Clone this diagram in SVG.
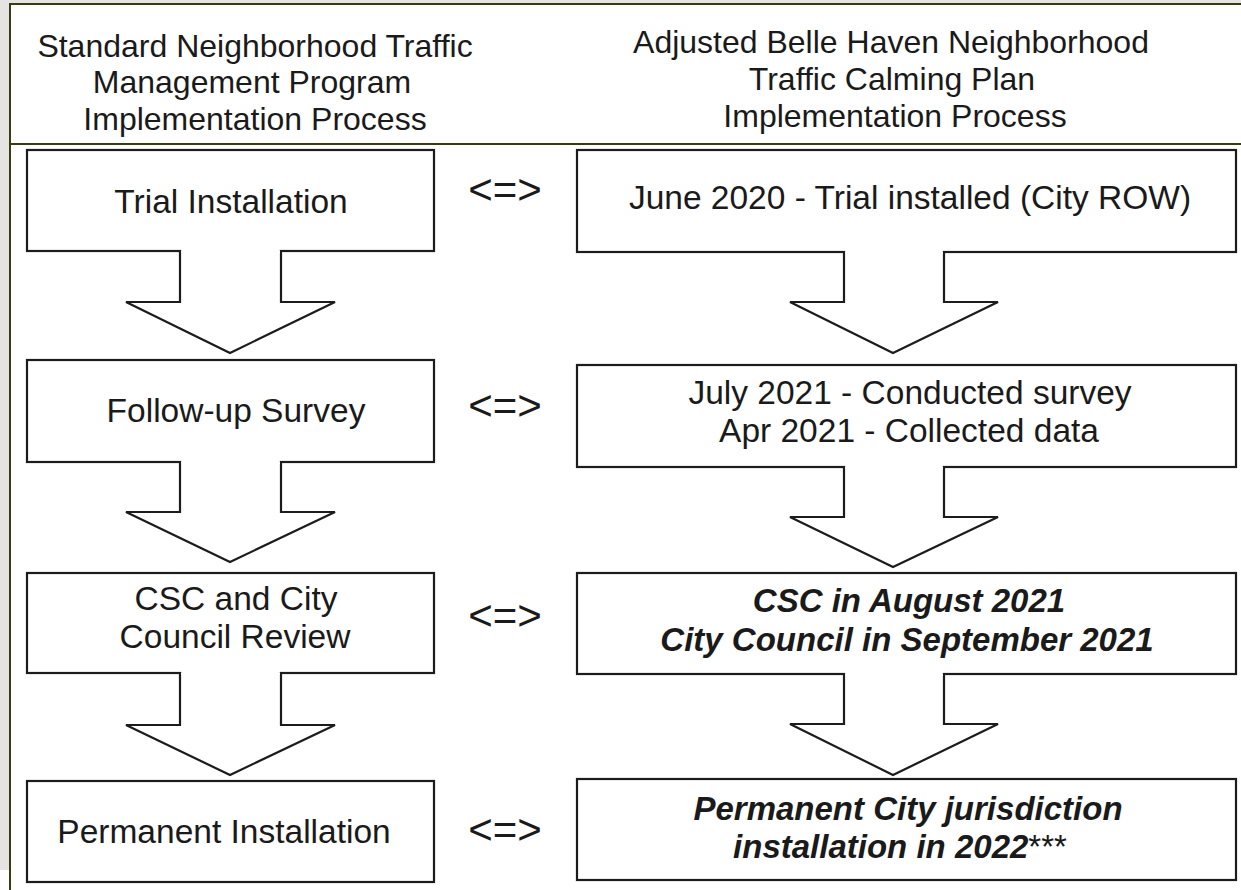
<svg xmlns="http://www.w3.org/2000/svg" width="1241" height="890" viewBox="0 0 1241 890">
<style>
.frame{stroke:#3b3b12;stroke-width:2;fill:none}
.box{fill:#ffffff;stroke:#1c1c1c;stroke-width:2.2;stroke-linejoin:miter}
.mask{fill:#ffffff;stroke:none}
text{font-family:"Liberation Sans",Arial,sans-serif;fill:#1a1a1a;text-anchor:middle}
.hd{font-size:32px}
.tx{font-size:33.5px}
.bi{font-size:33px;font-weight:bold;font-style:italic}
.eq{font-size:42px}
.ast{font-weight:normal;font-style:normal}
</style>
<rect x="0" y="0" width="1241" height="890" fill="#ffffff"/>
<rect x="0" y="0" width="1241" height="4" fill="#e4e4e2"/>
<rect x="0" y="0" width="9" height="870" fill="#e4e4e2"/>
<line class="frame" x1="9" y1="4" x2="1241" y2="4"/>
<line class="frame" x1="10" y1="4" x2="10" y2="890"/>
<line class="frame" x1="10" y1="144" x2="1241" y2="144"/>

<g id="header-left">
<text class="hd" x="255" y="57">Standard Neighborhood Traffic</text>
<text class="hd" x="252" y="93">Management Program</text>
<text class="hd" x="255" y="130">Implementation Process</text>
</g>
<g id="header-right">
<text class="hd" x="891" y="53">Adjusted Belle Haven Neighborhood</text>
<text class="hd" x="892" y="90">Traffic Calming Plan</text>
<text class="hd" x="895" y="127">Implementation Process</text>
</g>

<g id="left-1"><rect class="box" x="27" y="150" width="407" height="101"/><text class="tx" x="231" y="213">Trial Installation</text></g>
<g id="left-2"><rect class="box" x="27" y="360" width="407" height="102"/><text class="tx" x="236" y="422">Follow-up Survey</text></g>
<g id="left-3"><rect class="box" x="27" y="573" width="407" height="100"/><text class="tx" x="236" y="610">CSC and City</text><text class="tx" x="235" y="648">Council Review</text></g>
<g id="left-4"><rect class="box" x="27" y="781" width="407" height="101"/><text class="tx" x="224" y="843">Permanent Installation</text></g>

<g id="right-1"><rect class="box" x="577" y="150" width="659" height="102"/><text class="tx" x="910" y="209">June 2020 - Trial installed (City ROW)</text></g>
<g id="right-2"><rect class="box" x="577" y="365" width="659" height="102"/><text class="tx" x="910" y="404">July 2021 - Conducted survey</text><text class="tx" x="909" y="442">Apr 2021 - Collected data</text></g>
<g id="right-3"><rect class="box" x="577" y="573" width="659" height="101"/><text class="bi" x="909" y="612">CSC in August 2021</text><text class="bi" x="907" y="651">City Council in September 2021</text></g>
<g id="right-4"><rect class="box" x="577" y="779" width="659" height="101"/><text class="bi" x="908" y="820">Permanent City jurisdiction</text><text class="bi" x="900" y="858">installation in 2022<tspan class="ast">***</tspan></text></g>

<g id="equivalences">
<text class="eq" x="505" y="204">&lt;=&gt;</text>
<text class="eq" x="505" y="420">&lt;=&gt;</text>
<text class="eq" x="505" y="630">&lt;=&gt;</text>
<text class="eq" x="505" y="844">&lt;=&gt;</text>
</g>

<g id="connectors">
<path class="box" d="M180,251 V302 H126 L230,353 L335,302 H281 V251"/><rect class="mask" x="181.2" y="248" width="98.6" height="5"/>
<path class="box" d="M180,462 V512 H126 L230,562 L335,512 H281 V462"/><rect class="mask" x="181.2" y="459" width="98.6" height="5"/>
<path class="box" d="M180,673 V725 H126 L230,775 L335,725 H281 V673"/><rect class="mask" x="181.2" y="670" width="98.6" height="5"/>
<path class="box" d="M844,252 V302 H790 L893,353 L998,302 H944 V252"/><rect class="mask" x="845.2" y="249" width="97.6" height="5"/>
<path class="box" d="M844,467 V517 H790 L893,567 L998,517 H944 V467"/><rect class="mask" x="845.2" y="464" width="97.6" height="5"/>
<path class="box" d="M844,674 V724 H790 L893,775 L998,724 H944 V674"/><rect class="mask" x="845.2" y="671" width="97.6" height="5"/>
</g>
</svg>
